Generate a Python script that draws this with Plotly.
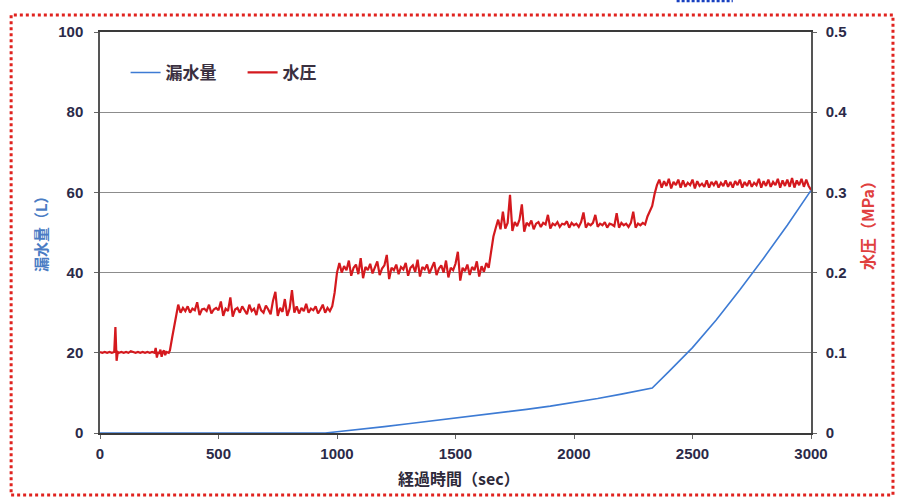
import plotly.graph_objects as go

# ---- leakage volume (L) ----
leak_t = [0, 200, 400, 600, 800, 950, 1000, 1100, 1200, 1300, 1400, 1500, 1600, 1700,
          1800, 1900, 2000, 2100, 2200, 2300, 2330, 2400, 2500, 2600, 2700, 2800, 2900, 3000]
leak_l = [0, 0, 0, 0, 0, 0, 0.3, 0.9, 1.6, 2.3, 3.0, 3.7, 4.5, 5.2,
          5.9, 6.7, 7.6, 8.6, 9.7, 10.8, 11.2, 15.3, 21.3, 28.2, 35.7, 43.6, 51.8, 60.5]

# ---- water pressure (MPa), logged readings per hold stage ----
p_t_stage1 = [0, 10, 20, 30, 40, 50, 60, 65, 70, 75, 80, 90, 100, 110, 120, 130, 140, 150,
              160, 170, 180, 190, 200, 210, 220, 230, 235, 240, 245, 250, 255, 260, 265,
              270, 275, 280, 290, 295, 305, 315, 325]
p_v_stage1 = [.101, .100, .101, .100, .101, .100, .101, .132, .090, .101, .100, .101, .100,
              .101, .100, .102, .101, .100, .101, .100, .101, .100, .101, .100, .101, .100,
              .106, .094, .101, .099, .104, .095, .101, .103, .097, .101, .100, .103, .120,
              .137, .150]

p_t_stage2 = [330, 340, 350, 360, 370, 380, 390, 400, 410, 420, 430, 440, 450, 460, 470,
              480, 490, 500, 510, 520, 530, 540, 550, 560, 570, 580, 590, 600, 610, 620,
              630, 640, 650, 660, 670, 680, 690, 700, 710, 720, 730, 740, 750, 760, 770,
              780, 790, 800, 810, 820, 830, 840, 850, 860, 870, 880, 890, 900, 910, 920,
              930, 940, 950, 960, 970, 980, 990, 1000]
p_v_stage2 = [.160, .150, .156, .152, .158, .150, .155, .153, .163, .147, .154, .155, .152,
              .160, .149, .154, .156, .153, .164, .146, .155, .152, .169, .145, .154, .156,
              .150, .158, .153, .148, .160, .152, .155, .147, .161, .153, .150, .159, .154,
              .148, .165, .176, .146, .156, .151, .167, .146, .155, .178, .150, .158, .149,
              .156, .152, .161, .150, .155, .153, .158, .149, .154, .160, .150, .156, .152,
              .158, .175, .200]

p_t_stage3 = [1010, 1020, 1030, 1040, 1050, 1060, 1070, 1080, 1090, 1100, 1110, 1120, 1130,
              1140, 1150, 1160, 1170, 1180, 1190, 1200, 1210, 1220, 1230, 1240, 1250, 1260,
              1270, 1280, 1290, 1300, 1310, 1320, 1330, 1340, 1350, 1360, 1370, 1380, 1390,
              1400, 1410, 1420, 1430, 1440, 1450, 1460, 1470, 1480, 1490, 1500, 1510, 1520,
              1530, 1540, 1550, 1560, 1570, 1580, 1590, 1600, 1610, 1620, 1630, 1640, 1650,
              1660, 1670]
p_v_stage3 = [.212, .200, .208, .203, .215, .196, .206, .210, .198, .218, .193, .207, .203,
              .211, .199, .206, .214, .197, .205, .209, .222, .192, .206, .203, .210, .198,
              .207, .204, .212, .196, .206, .209, .201, .216, .195, .207, .204, .210, .199,
              .206, .213, .197, .205, .209, .200, .215, .194, .206, .203, .211, .226, .190,
              .206, .202, .210, .197, .207, .203, .214, .195, .208, .201, .212, .206, .225,
              .245, .256]

p_t_stage4 = [1680, 1690, 1700, 1710, 1720, 1730, 1740, 1750, 1760, 1770, 1780, 1790, 1800,
              1810, 1820, 1830, 1840, 1850, 1860, 1870, 1880, 1890, 1900, 1910, 1920, 1930,
              1940, 1950, 1960, 1970, 1980, 1990, 2000, 2010, 2020, 2030, 2040, 2050, 2060,
              2070, 2080, 2090, 2100, 2110, 2120, 2130, 2140, 2150, 2160, 2170, 2180, 2190,
              2200, 2210, 2220, 2230, 2240, 2250, 2260, 2270, 2280, 2290, 2300, 2310, 2320,
              2330, 2340, 2350]
p_v_stage4 = [.266, .254, .276, .255, .262, .297, .252, .263, .258, .266, .285, .251, .262,
              .259, .265, .254, .261, .263, .257, .262, .260, .272, .255, .261, .259, .263,
              .257, .261, .260, .264, .256, .262, .259, .261, .257, .263, .275, .256, .261,
              .259, .262, .272, .257, .261, .259, .263, .256, .261, .260, .258, .274, .256,
              .262, .259, .261, .257, .262, .276, .256, .261, .259, .262, .260, .270, .277,
              .283, .298, .309]

p_t_stage5 = [2360, 2370, 2380, 2390, 2400, 2410, 2420, 2430, 2440, 2450, 2460, 2470, 2480,
              2490, 2500, 2510, 2520, 2530, 2540, 2550, 2560, 2570, 2580, 2590, 2600, 2610,
              2620, 2630, 2640, 2650, 2660, 2670, 2680, 2690, 2700, 2710, 2720, 2730, 2740,
              2750, 2760, 2770, 2780, 2790, 2800, 2810, 2820, 2830, 2840, 2850, 2860, 2870,
              2880, 2890, 2900, 2910, 2920, 2930, 2940, 2950, 2960, 2970, 2980, 2990, 3000]
p_v_stage5 = [.316, .306, .314, .308, .317, .305, .313, .309, .316, .306, .315, .307, .312,
              .309, .316, .305, .314, .308, .311, .307, .315, .306, .313, .309, .314, .306,
              .312, .308, .315, .307, .313, .306, .314, .309, .316, .306, .313, .308, .315,
              .307, .312, .309, .317, .306, .314, .308, .316, .307, .313, .309, .317, .306,
              .315, .308, .316, .307, .318, .306, .315, .309, .317, .307, .316, .308, .303]

press_t = p_t_stage1 + p_t_stage2 + p_t_stage3 + p_t_stage4 + p_t_stage5
press_v = p_v_stage1 + p_v_stage2 + p_v_stage3 + p_v_stage4 + p_v_stage5

x_ticks = [0, 500, 1000, 1500, 2000, 2500, 3000]
left_ticks = [0, 20, 40, 60, 80, 100]
right_ticks = [0, 0.1, 0.2, 0.3, 0.4, 0.5]
right_tick_text = ["0", "0.1", "0.2", "0.3", "0.4", "0.5"]

TICK_FONT = dict(family="Liberation Sans", size=15, color="#2b2a48", weight="bold")
JP = "Noto Sans CJK JP"

fig = go.Figure()
fig.add_trace(go.Scatter(x=leak_t, y=leak_l, name="漏水量", mode="lines",
                         line=dict(color="#3d7bd4", width=1.6), yaxis="y"))
fig.add_trace(go.Scatter(x=press_t, y=press_v, name="水圧", mode="lines",
                         line=dict(color="#d4191e", width=2.2), yaxis="y2"))

fig.update_layout(
    width=898, height=499,
    margin=dict(l=100, r=87, t=32, b=66),
    paper_bgcolor="white", plot_bgcolor="white",
    showlegend=True,
    legend=dict(orientation="h", x=0.036, y=0.898, xanchor="left", yanchor="middle",
                bgcolor="rgba(0,0,0,0)", entrywidth=72, entrywidthmode="pixels",
                font=dict(family=JP, size=17, color="#3a3040", weight="bold")),
    xaxis=dict(range=[0, 3000], tickvals=x_ticks, ticks="outside", ticklen=4,
               tickcolor="#666", showline=True, linecolor="#3a3a3a", linewidth=1.5,
               mirror=True, showgrid=False, zeroline=False, tickfont=TICK_FONT,
               ticklabelstandoff=2),
    yaxis=dict(range=[0, 100], tickvals=left_ticks, ticks="outside", ticklen=4,
               tickcolor="#666", showline=True, linecolor="#555", linewidth=1.5,
               showgrid=True, gridcolor="#8c8c8c", gridwidth=1.3, zeroline=False,
               tickfont=TICK_FONT, ticklabelstandoff=8),
    yaxis2=dict(range=[0, 0.5], tickvals=right_ticks, ticktext=right_tick_text,
                overlaying="y", side="right", ticks="outside", ticklen=4,
                tickcolor="#666", showline=True, linecolor="#555", linewidth=1.5,
                showgrid=False, zeroline=False, tickfont=TICK_FONT, ticklabelstandoff=6),
)

# axis titles
fig.add_annotation(text="経過時間（sec）", xref="paper", yref="paper", x=0.505, y=-0.112,
                   xanchor="center", yanchor="middle", showarrow=False,
                   font=dict(family=JP, size=16, color="#2e2a3a", weight="bold"))
fig.add_annotation(text="漏水量（L）", xref="paper", yref="paper", x=-0.0844, y=0.506,
                   textangle=-90, xanchor="center", yanchor="middle", showarrow=False,
                   font=dict(family=JP, size=15, color="#4a7cc4", weight="bold"))
fig.add_annotation(text="水圧（MPa）", xref="paper", yref="paper", x=1.0788, y=0.526,
                   textangle=-90, xanchor="center", yanchor="middle", showarrow=False,
                   font=dict(family=JP, size=16, color="#e0403e", weight="bold"))

# dotted red frame around the whole figure, plus the fragment of a blue dotted box at the top
fig.add_shape(type="rect", xref="paper", yref="paper",
              x0=-0.125, x1=1.1153, y0=-0.1546, y1=1.0424,
              line=dict(color="#e0231f", width=3, dash="3px,3px"), fillcolor="rgba(0,0,0,0)",
              layer="above")
fig.add_shape(type="line", xref="paper", yref="paper",
              x0=0.811, x1=0.890, y0=1.078, y1=1.078,
              line=dict(color="#1840c0", width=3, dash="3px,2px"), layer="above")

fig.write_html("out.html")
